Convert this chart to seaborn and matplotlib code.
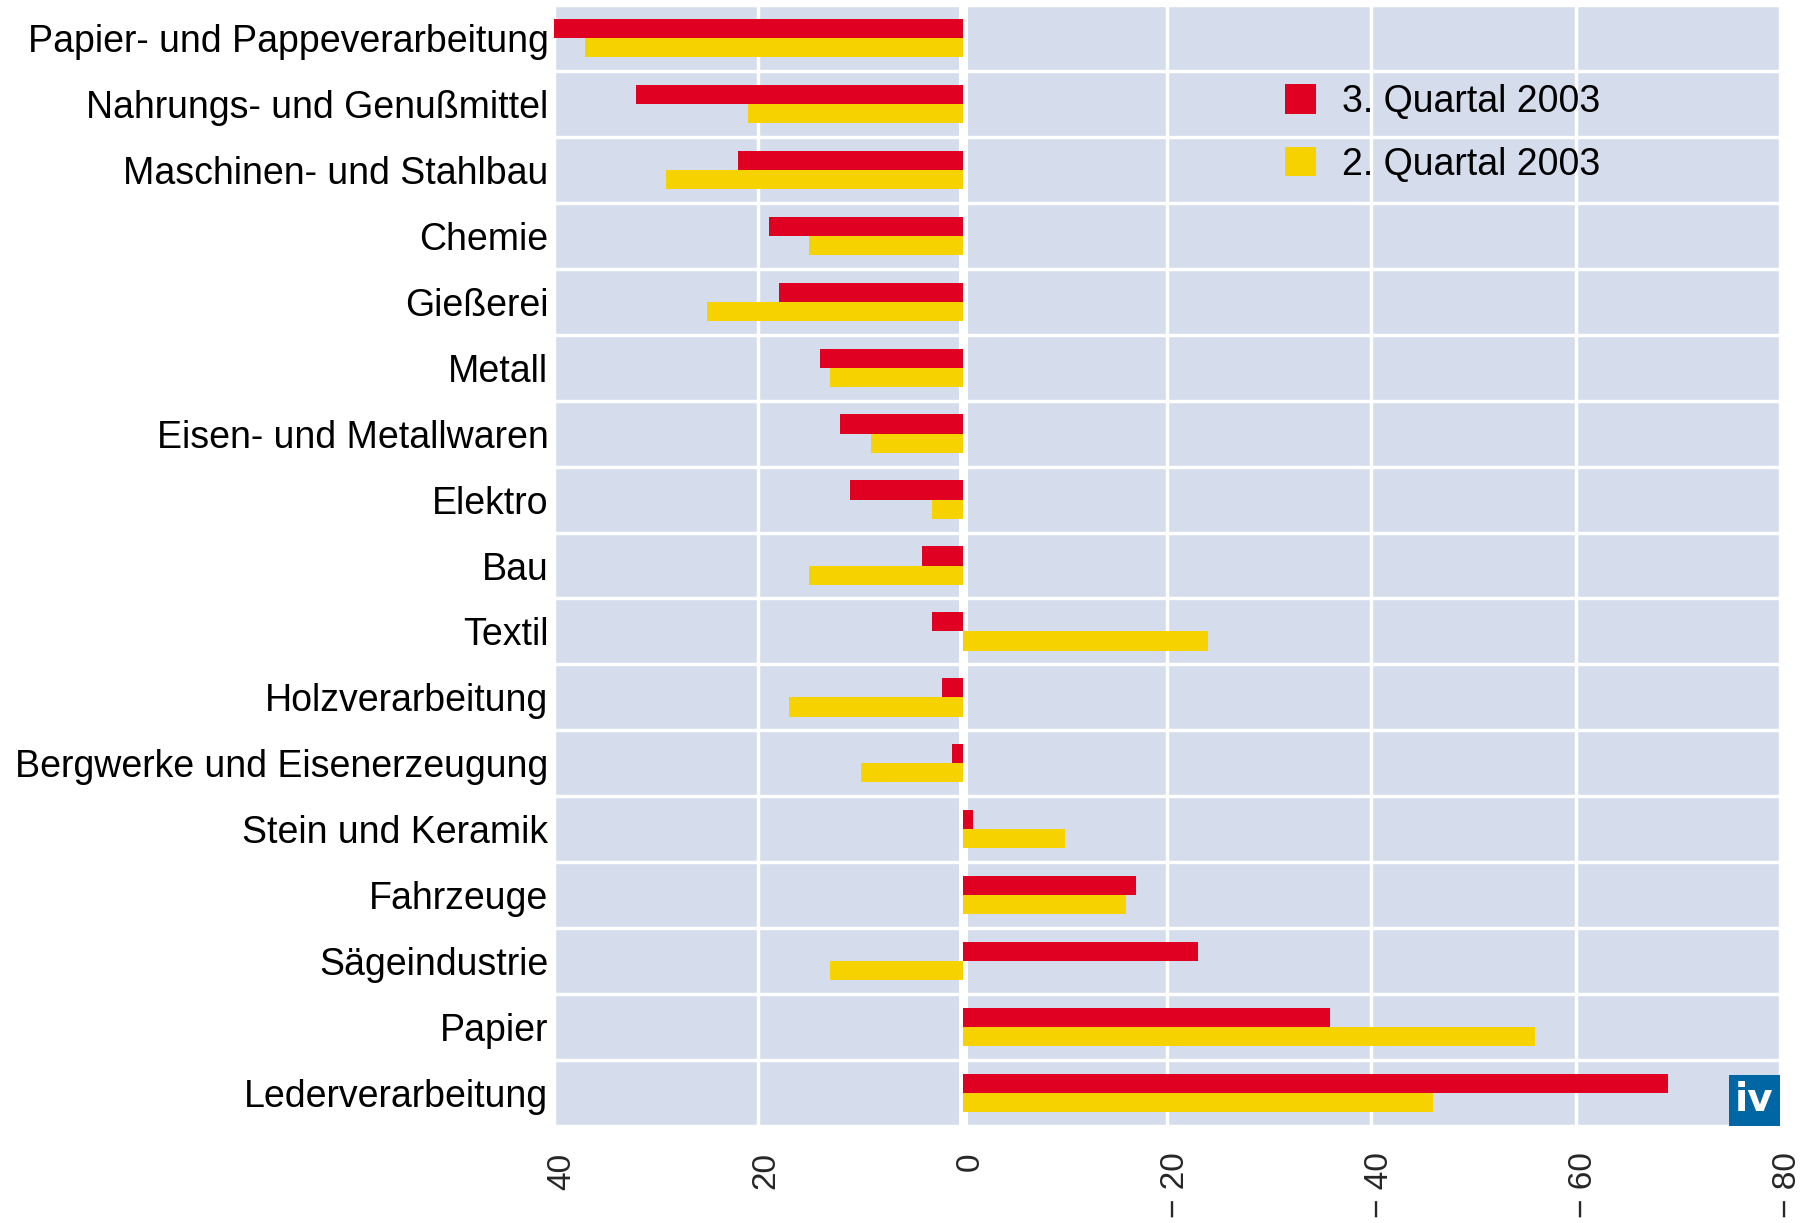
import matplotlib
matplotlib.use("Agg")
import matplotlib.pyplot as plt
import matplotlib.transforms as mtransforms
from matplotlib.patches import Rectangle
import seaborn as sns
import pandas as pd

categories = [
    "Papier- und Pappeverarbeitung", "Nahrungs- und Genußmittel",
    "Maschinen- und Stahlbau", "Chemie", "Gießerei", "Metall",
    "Eisen- und Metallwaren", "Elektro", "Bau", "Textil",
    "Holzverarbeitung", "Bergwerke und Eisenerzeugung",
    "Stein und Keramik", "Fahrzeuge", "Sägeindustrie", "Papier",
    "Lederverarbeitung",
]
q3_2003 = [40, 32, 22, 19, 18, 14, 12, 11, 4, 3, 2, 1, -1, -17, -23, -36, -69]
q2_2003 = [37, 21, 29, 15, 25, 13, 9, 3, 15, -24, 17, 10, -10, -16, 13, -56, -46]
series_names = ["3. Quartal 2003", "2. Quartal 2003"]
x_ticks = [40, 20, 0, -20, -40, -60, -80]
x_tick_labels = ["40", "20", "0", "\u2212 20", "\u2212 40", "\u2212 60", "\u2212 80"]

RED = "#E00022"
YELLOW = "#F5D200"
BG = "#D5DCEB"

sns.set_theme(style="white")
plt.rcParams["font.family"] = ["Liberation Sans", "DejaVu Sans"]

df = pd.DataFrame({
    "Branche": categories * 2,
    "Wert": q3_2003 + q2_2003,
    "Quartal": [series_names[0]] * len(categories) + [series_names[1]] * len(categories),
})

fig = plt.figure(figsize=(18.11, 12.23), dpi=100)
ax = fig.add_axes([554 / 1811, 1 - 1126 / 1223, (1780 - 554) / 1811, (1126 - 5) / 1223])
ax.set_facecolor(BG)

sns.barplot(data=df, y="Branche", x="Wert", hue="Quartal", hue_order=series_names,
            order=categories, palette=[RED, YELLOW], saturation=1, width=0.58,
            linewidth=0, orient="h", ax=ax, zorder=3)

n = len(categories)
ax.set_xlim(40, -80)
ax.set_ylim(n - 0.5, -0.5)

# grid
ax.set_xticks(x_ticks, labels=x_tick_labels)
ax.set_yticks([i + 0.5 for i in range(-1, n)], minor=True)
ax.grid(False)
ax.grid(True, which="minor", axis="y", color="white", linewidth=2.5, zorder=1)
ax.grid(True, which="major", axis="x", color="white", linewidth=2.5, zorder=1)
ax.set_axisbelow(True)
ax.axvline(0, color="white", linewidth=6.5, zorder=2)

for s in ax.spines.values():
    s.set_visible(False)

ax.set_xlabel("")
ax.set_ylabel("")
ax.tick_params(axis="x", length=0, pad=19)
ax.tick_params(axis="y", length=0, pad=4, labelsize=27)
ax.tick_params(axis="y", which="minor", length=0)
offset = mtransforms.ScaledTranslation(8 / 100, 0, fig.dpi_scale_trans)
for lab in ax.get_xticklabels():
    lab.set_rotation(90)
    lab.set_fontsize(24)
    lab.set_transform(lab.get_transform() + offset)
for lab in ax.get_yticklabels():
    lab.set_color("black")

leg = ax.legend(loc="upper left", bbox_to_anchor=((1285 - 554) / 1226, 1 - (84 - 5) / 1121),
                frameon=False, fontsize=27, handlelength=0.83, handleheight=0.83,
                handletextpad=0.69, labelspacing=0.71, borderpad=0, borderaxespad=0)
for t in leg.get_texts():
    t.set_color("black")

# logo box
ax.add_patch(Rectangle((0.9584, 0.0), 0.0416, 0.0455, transform=ax.transAxes,
                       facecolor="#0066A4", edgecolor="none", zorder=5))
ax.text(0.9792, 0.0228, "iv", transform=ax.transAxes, color="white",
        fontsize=28, fontweight="bold", ha="center", va="center", zorder=6,
        family=["DejaVu Sans"])

fig.savefig("out.png", dpi=100, facecolor="white")
